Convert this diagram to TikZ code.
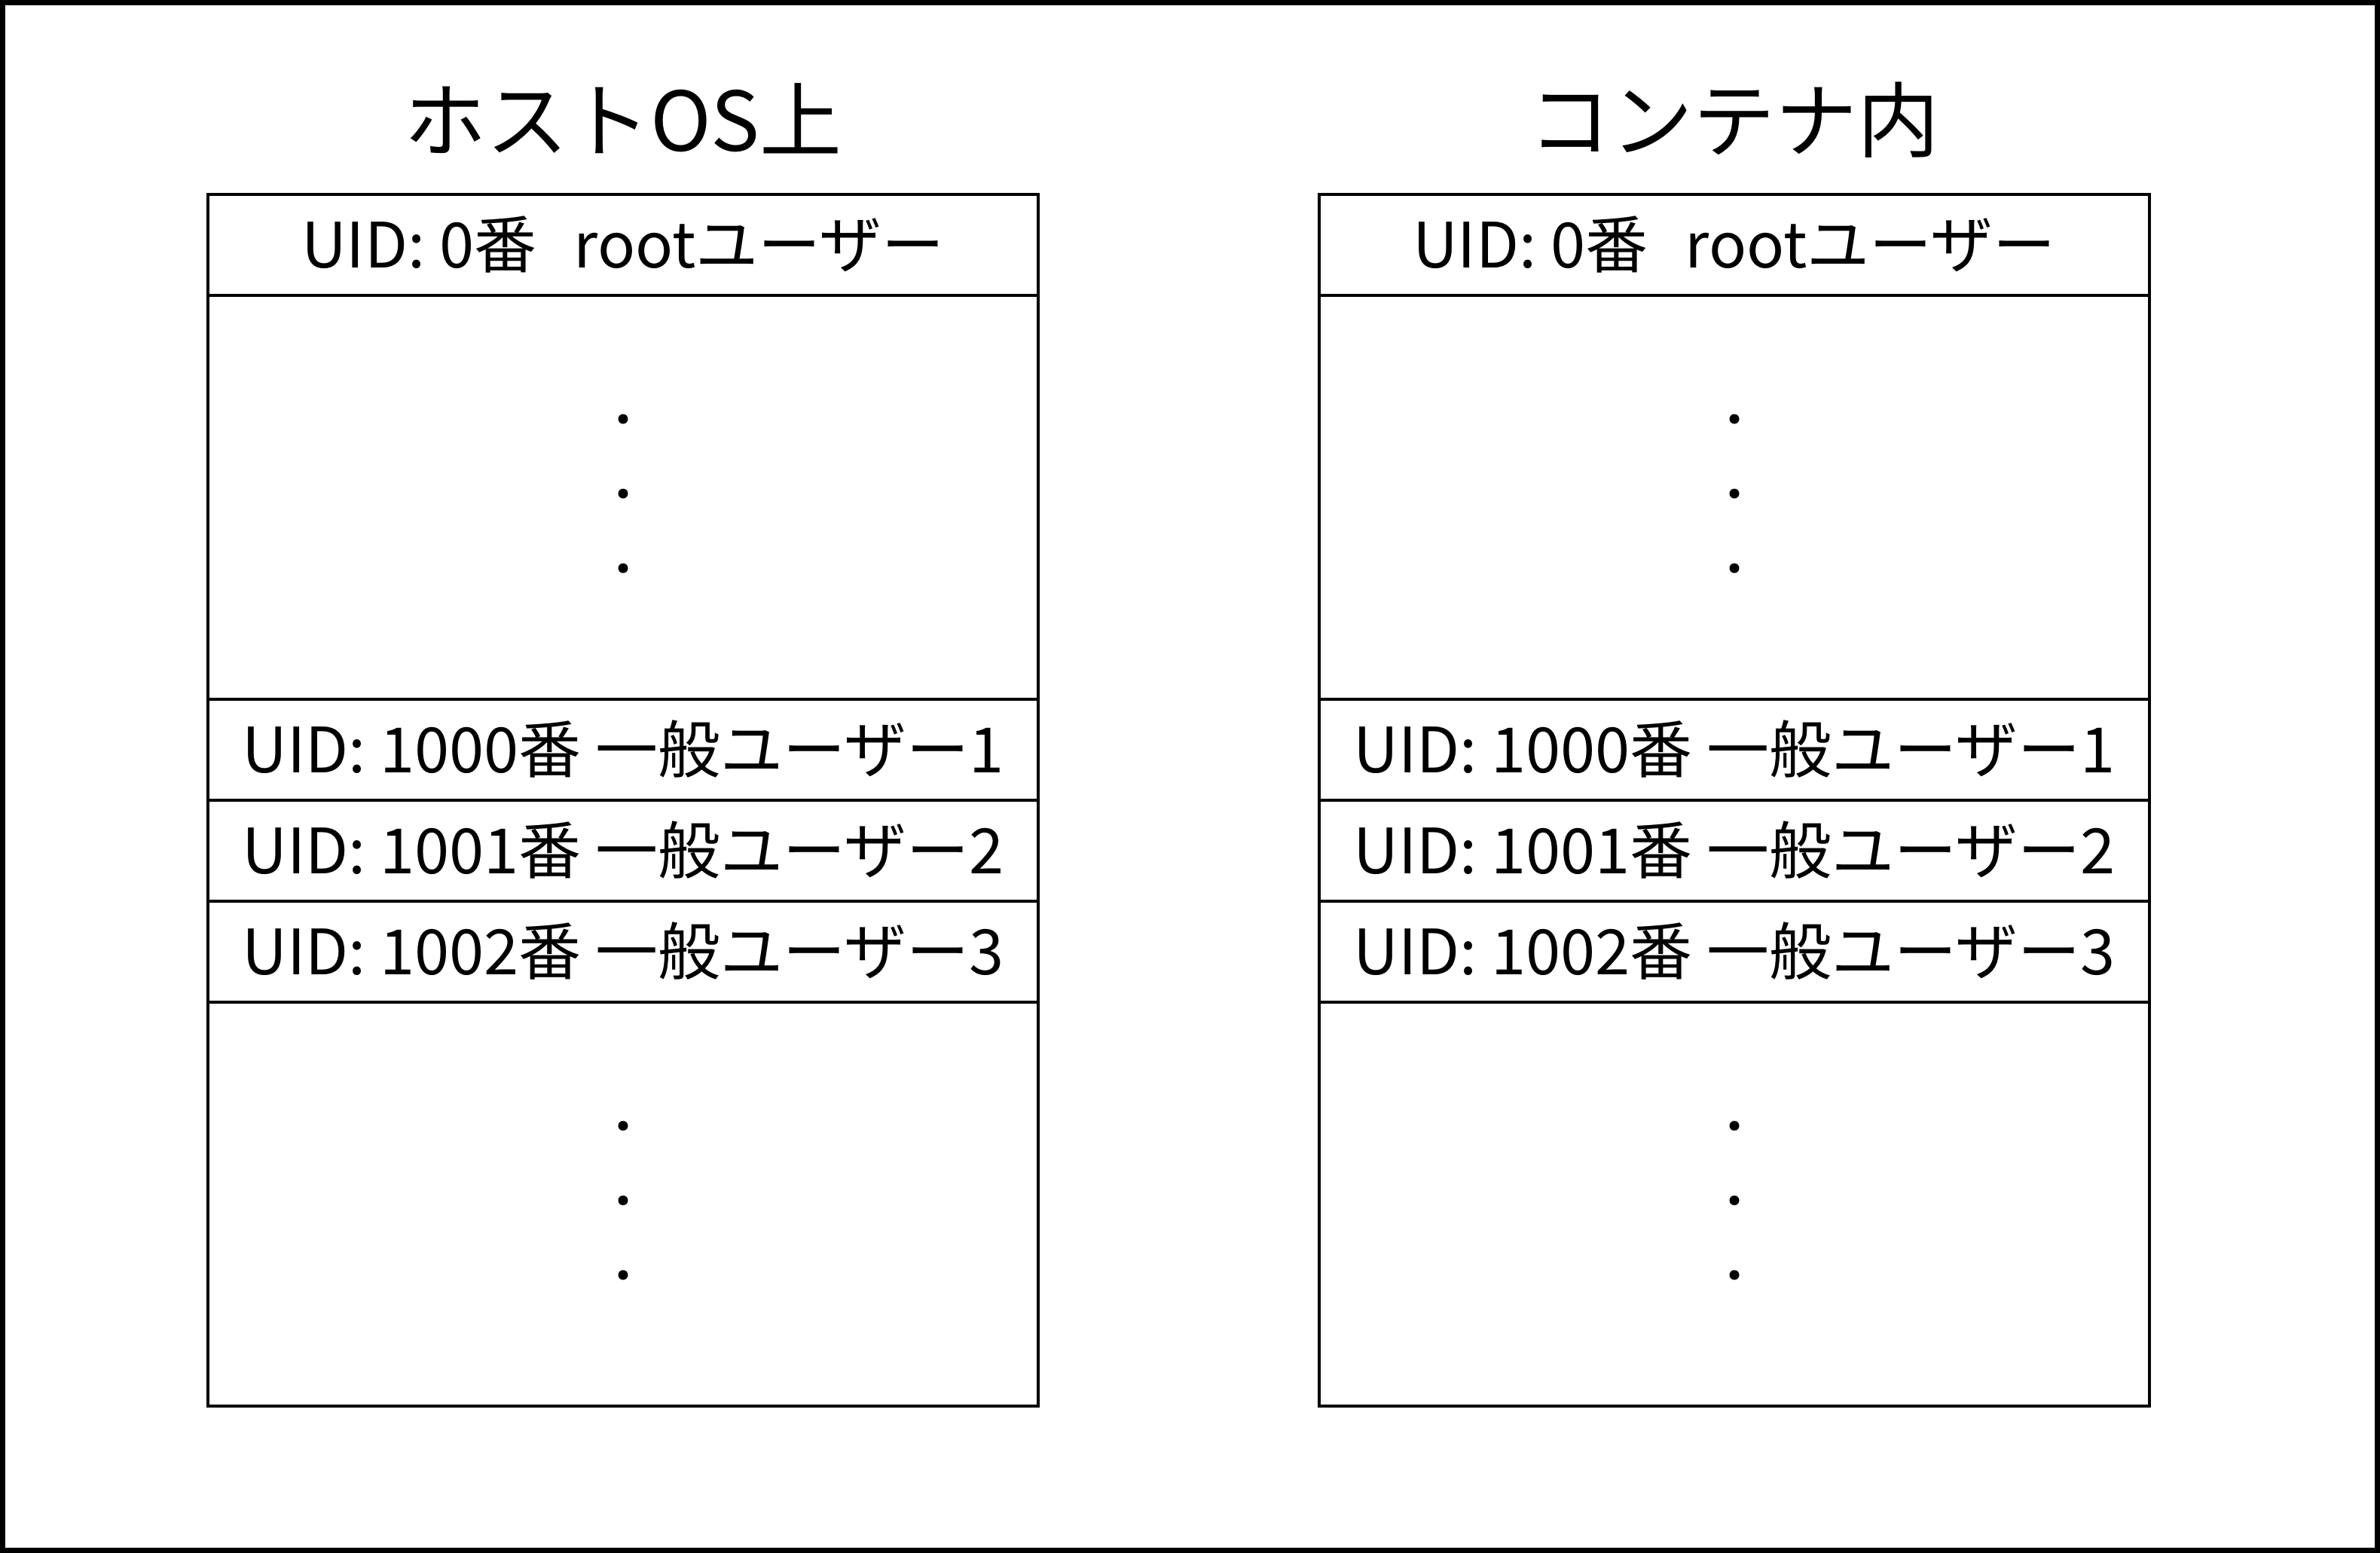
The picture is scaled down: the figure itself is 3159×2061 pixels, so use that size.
\documentclass[tikz,border=0pt]{standalone}
\usepackage{fontspec}
\setmainfont{Noto Sans CJK JP}
\begin{document}
\begin{tikzpicture}[x=1pt,y=-1pt,
  rowbox/.style={draw=black,line width=4pt,minimum width=1102pt,minimum height=134pt,inner sep=0pt,
     text height=60pt,text depth=0pt,font=\fontsize{83}{95}\selectfont},
  gapbox/.style={draw=black,line width=4pt,minimum width=1102pt,minimum height=536pt,inner sep=0pt},
  titletext/.style={anchor=base,inner sep=0pt,font=\fontsize{109}{122}\selectfont},
  dotmark/.style={circle,fill=black,inner sep=0pt,minimum size=13pt}]
\useasboundingbox (0,0) rectangle (3159,2061);
\draw[line width=7pt] (3.5,3.5) rectangle (3155.5,2057.5);
% titles
\node[titletext] (tL) at (827,200) {ホストOS上};
\node[titletext] (tR) at (2302,200) {コンテナ内};
% left column
\node[rowbox] (L0) at (827,325) {UID: 0番\hspace{0.6em}rootユーザー};
\node[gapbox] (Lg1) at (827,660) {};
\node[rowbox] (L1) at (827,995) {UID: 1000番 一般ユーザー1};
\node[rowbox] (L2) at (827,1129) {UID: 1001番 一般ユーザー2};
\node[rowbox] (L3) at (827,1263) {UID: 1002番 一般ユーザー3};
\node[gapbox] (Lg2) at (827,1598) {};
% right column
\node[rowbox] (R0) at (2302,325) {UID: 0番\hspace{0.6em}rootユーザー};
\node[gapbox] (Rg1) at (2302,660) {};
\node[rowbox] (R1) at (2302,995) {UID: 1000番 一般ユーザー1};
\node[rowbox] (R2) at (2302,1129) {UID: 1001番 一般ユーザー2};
\node[rowbox] (R3) at (2302,1263) {UID: 1002番 一般ユーザー3};
\node[gapbox] (Rg2) at (2302,1598) {};
% dots
\foreach \c in {L,R}{
  \foreach \g in {1,2}{
    \node[dotmark] (\c d\g a) at ([yshift=104pt]\c g\g.center) {};
    \node[dotmark] (\c d\g b) at ([yshift=5pt]\c g\g.center) {};
    \node[dotmark] (\c d\g c) at ([yshift=-94pt]\c g\g.center) {};
  }
}
\end{tikzpicture}
\end{document}
